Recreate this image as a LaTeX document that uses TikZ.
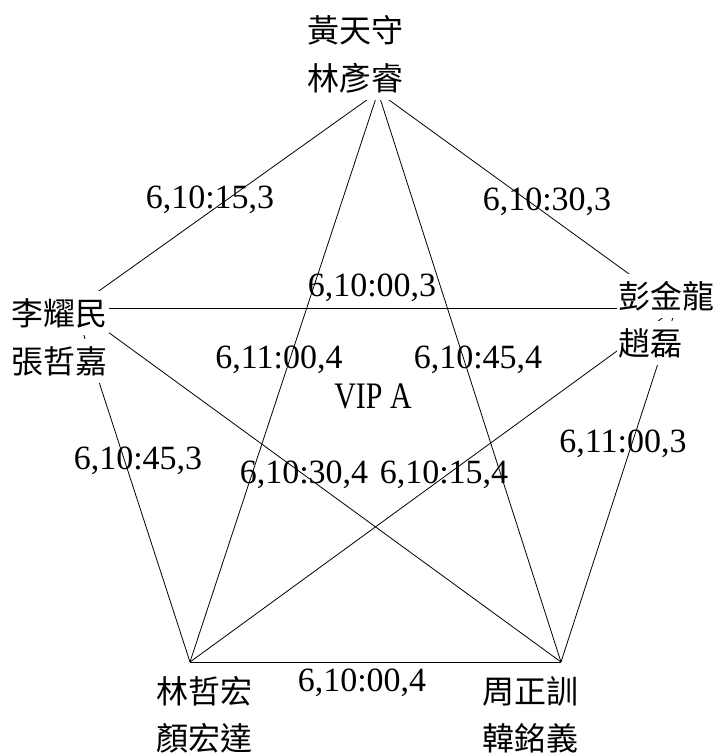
\documentclass[tikz,border=0pt]{standalone}
\usepackage{fontspec}
\setmainfont{Liberation Serif}
\newfontfamily\cjk{Noto Sans CJK TC}
\begin{document}
\begin{tikzpicture}[x=1pt,y=-1pt,
  edge/.style={draw=black,line width=0.8pt},
  person/.style={font=\cjk\fontsize{32}{32}\selectfont,fill=white,inner xsep=1pt,inner ysep=0pt,minimum height=44pt},
  lbl/.style={font=\fontsize{34}{34}\selectfont,inner sep=0pt,text height=23pt,text depth=0pt}]
\useasboundingbox (0,0) rectangle (717,756);
% edge hubs
\coordinate (hT) at (378,92);
\coordinate (hL) at (75,308);
\coordinate (hR) at (676,308);
\coordinate (hBL) at (190,662);
\coordinate (hBR) at (561,662);
% edges
\draw[edge] (hT) -- (hL);
\draw[edge] (hT) -- (hR);
\draw[edge] (hT) -- (hBL);
\draw[edge] (hT) -- (hBR);
\draw[edge] (hL) -- (hR);
\draw[edge] (hL) -- (hBL);
\draw[edge] (hL) -- (hBR);
\draw[edge] (hR) -- (hBL);
\draw[edge] (hR) -- (hBR);
\draw[edge] (hBL) -- (hBR);
% people
\node[person] (t1) at (355,30) {黃天守};
\node[person] (t2) at (355,78) {林彥睿};
\node[person] (l1) at (60,313) {李耀民};
\node[person] (l2) at (60,361) {張哲嘉};
\node[person,anchor=west] (r1) at (617,296) {彭金龍};
\node[person,anchor=west] (r2) at (617,343) {趙磊};
\node[person] (bl1) at (204,691) {林哲宏};
\node[person] (bl2) at (204,738) {顏宏達};
\node[person] (br1) at (530,691) {周正訓};
\node[person] (br2) at (530,738) {韓銘義};
% labels
\node[lbl] (e1) at (210,197) {6,10:15,3};
\node[lbl] (e2) at (547,199) {6,10:30,3};
\node[lbl] (e3) at (372,285) {6,10:00,3};
\node[lbl] (e4) at (279,357) {6,11:00,4};
\node[lbl] (e5) at (478,357) {6,10:45,4};
\node[lbl] (e6) at (304,472) {6,10:30,4};
\node[lbl] (e7) at (444,472) {6,10:15,4};
\node[lbl] (e8) at (138,458) {6,10:45,3};
\node[lbl] (e9) at (623,441) {6,11:00,3};
\node[lbl] (e10) at (362,680) {6,10:00,4};
\node[lbl] (vip) at (373,397) {\scalebox{0.88}[1.1]{VIP A}};
\end{tikzpicture}
\end{document}
